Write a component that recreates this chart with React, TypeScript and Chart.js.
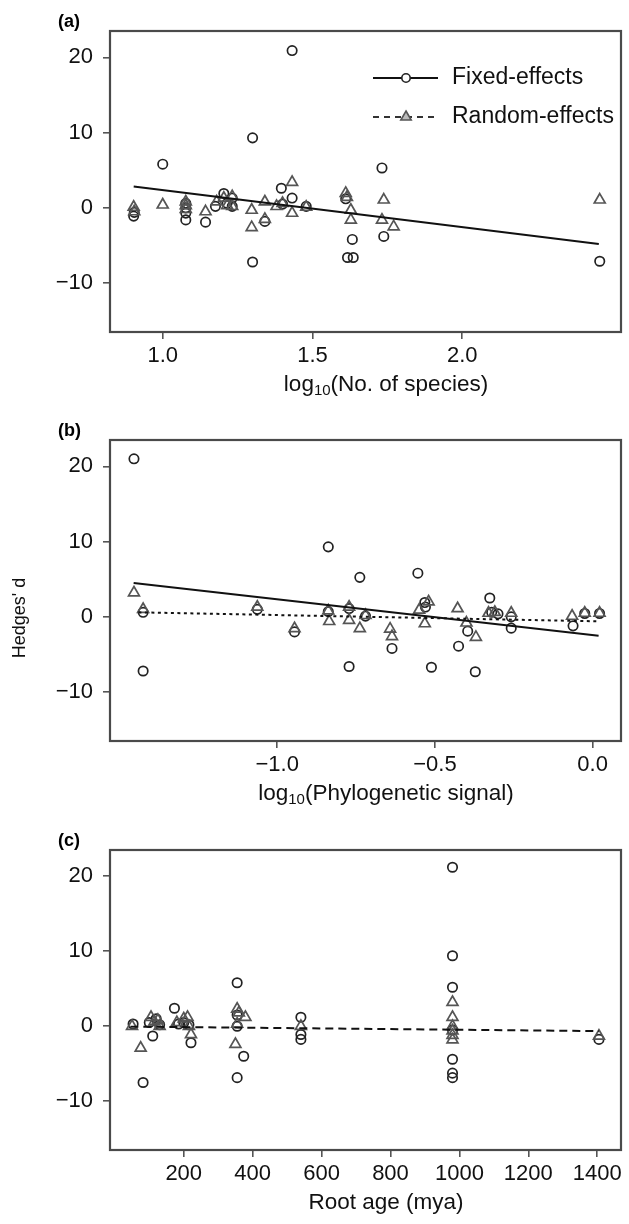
import React, { useEffect, useRef } from 'react';
import { Chart, registerables } from 'chart.js';

Chart.register(...registerables);

const FONT = "'Liberation Sans', Arial, Helvetica, sans-serif";
const PAGE_W = 629;
const PANEL_H = 408;

// Shared y axis
const Y_TICKS = [-10, 0, 10, 20];
const Y_MIN = -16.5;
const Y_MAX = 23.5;

// ---------- Panel (a): log10(No. of species)
const A_X_TICKS = [1.0, 1.5, 2.0];
const A_X_MIN = 0.824;
const A_X_MAX = 2.53;
const A_CIRCLE_X = [0.903, 0.905, 1.0, 1.077, 1.077, 1.077, 1.077, 1.143, 1.176, 1.204, 1.215, 1.232, 1.232, 1.3, 1.3, 1.341, 1.396, 1.4, 1.432, 1.432, 1.479, 1.611, 1.633, 1.617, 1.636, 1.732, 1.738, 2.459];
const A_CIRCLE_Y = [-1.1, -0.6, 5.8, 0.6, 0.0, -0.7, -1.6, -1.9, 0.2, 1.9, 0.6, 1.3, 0.2, 9.3, -7.2, -1.8, 2.6, 0.5, 20.9, 1.3, 0.2, 1.2, -4.2, -6.6, -6.6, 5.3, -3.8, -7.1];
const A_TRI_X = [0.903, 0.905, 1.0, 1.077, 1.077, 1.077, 1.143, 1.18, 1.204, 1.232, 1.232, 1.215, 1.297, 1.297, 1.341, 1.341, 1.38, 1.4, 1.432, 1.432, 1.479, 1.611, 1.628, 1.628, 1.615, 1.738, 1.732, 1.771, 2.459];
const A_TRI_Y = [0.1, -0.5, 0.4, 0.8, 0.3, -0.2, -0.5, 0.8, 1.3, 1.5, 0.2, 0.3, -0.3, -2.6, 0.8, -1.5, 0.2, 0.6, 3.4, -0.7, 0.1, 1.95, -0.3, -1.6, 1.4, 1.06, -1.6, -2.5, 1.06];
const A_FIXED_X = [0.903, 2.456];
const A_FIXED_Y = [2.83, -4.82];

// ---------- Panel (b): log10(Phylogenetic signal)
const B_X_TICKS = [-1.0, -0.5, 0.0];
const B_X_MIN = -1.53;
const B_X_MAX = 0.09;
const B_CIRCLE_X = [-1.454, -1.425, -1.425, -1.063, -0.945, -0.838, -0.838, -0.772, -0.772, -0.738, -0.72, -0.636, -0.554, -0.532, -0.53, -0.511, -0.425, -0.396, -0.372, -0.326, -0.32, -0.3, -0.258, -0.258, -0.062, -0.025, 0.022];
const B_CIRCLE_Y = [21.0, 0.6, -7.2, 1.0, -2.0, 9.3, 0.7, -6.6, 1.1, 5.25, 0.1, -4.2, 5.8, 1.9, 1.3, -6.7, -3.9, -1.9, -7.3, 2.5, 0.6, 0.4, 0.0, -1.5, -1.2, 0.45, 0.45];
const B_TRI_X = [-1.454, -1.425, -1.063, -0.945, -0.838, -0.835, -0.772, -0.772, -0.738, -0.72, -0.642, -0.636, -0.55, -0.532, -0.52, -0.428, -0.4, -0.37, -0.33, -0.31, -0.258, -0.065, -0.025, 0.022];
const B_TRI_Y = [3.2, 1.0, 1.3, -1.55, 0.8, -0.6, 1.3, -0.45, -1.55, 0.2, -1.6, -2.6, 0.9, -0.9, 2.0, 1.1, -0.8, -2.7, 0.5, 0.6, 0.5, 0.1, 0.5, 0.5];
const B_FIXED_X = [-1.455, 0.019];
const B_FIXED_Y = [4.5, -2.5];
const B_RANDOM_X = [-1.44, 0.02];
const B_RANDOM_Y = [0.6, -0.6];

// ---------- Panel (c): Root age (mya)
const C_X_TICKS = [200, 400, 600, 800, 1000, 1200, 1400];
const C_X_MIN = -14;
const C_X_MAX = 1469;
const C_CIRCLE_X = [53, 82, 110, 100, 120, 130, 173, 185, 200, 215, 221, 355, 355, 355, 374, 355, 540, 540, 540, 980, 980, 980, 980, 980, 980, 980, 1405];
const C_CIRCLE_Y = [0.3, -7.5, -1.3, 0.5, 1.0, 0.2, 2.4, 0.3, 0.5, 0.2, -2.2, 5.8, 0.0, 1.5, -4.0, -6.85, 1.2, -1.1, -1.75, 21.2, 9.4, 5.2, -0.5, -4.4, -6.25, -6.85, -1.75];
const C_TRI_X = [50, 75, 105, 115, 125, 130, 180, 200, 211, 215, 221, 355, 355, 379, 350, 360, 540, 980, 980, 980, 980, 980, 980, 1405];
const C_TRI_Y = [0.0, -2.9, 1.2, 0.6, 0.8, 0.0, 0.5, 1.0, 1.2, 0.0, -1.1, 2.3, 0.3, 1.2, -2.4, 1.8, 0.0, 3.2, 1.2, 0.0, -0.6, -1.2, -1.8, -1.3];
const C_RANDOM_X = [45, 1405];
const C_RANDOM_Y = [-0.05, -0.65];

const LEGEND_LABELS = ['Fixed-effects', 'Random-effects'];

const TEXT = '#111';

const pts = (xs: number[], ys: number[]) => xs.map((x, i) => ({ x, y: ys[i] }));
const minus = (s: string) => s.replace('-', '\u2212');

const decorPlugin = {
  id: 'decor',
  afterDraw(chart: any, _args: any, opts: any) {
    const ctx = chart.ctx;
    const a = chart.chartArea;
    ctx.save();
    // frame
    ctx.strokeStyle = '#4a4a4a';
    ctx.lineWidth = 2.2;
    ctx.strokeRect(a.left, a.top, a.right - a.left, a.bottom - a.top);
    // panel label
    ctx.fillStyle = '#000';
    ctx.font = `bold 18px ${FONT}`;
    ctx.textAlign = 'left';
    ctx.textBaseline = 'middle';
    ctx.fillText(opts.panel, 58, a.top - 9);
    // x title (with optional subscript)
    const t = opts.xTitle;
    const main = `22.5px ${FONT}`;
    const small = `15px ${FONT}`;
    ctx.font = main;
    const w1 = ctx.measureText(t.base).width;
    const w3 = ctx.measureText(t.rest).width;
    ctx.font = small;
    const w2 = t.sub ? ctx.measureText(t.sub).width : 0;
    const total = w1 + w2 + w3;
    let x = opts.xTitleCenter - total / 2;
    const y = a.bottom + 53;
    ctx.fillStyle = TEXT;
    ctx.textAlign = 'left';
    ctx.textBaseline = 'middle';
    ctx.font = main;
    ctx.fillText(t.base, x, y);
    x += w1;
    if (t.sub) {
      ctx.font = small;
      ctx.fillText(t.sub, x, y + 6);
      x += w2;
    }
    ctx.font = main;
    ctx.fillText(t.rest, x, y);
    // y title
    if (opts.yTitle) {
      ctx.save();
      ctx.translate(20, opts.yTitleY);
      ctx.rotate(-Math.PI / 2);
      ctx.font = `18px ${FONT}`;
      ctx.textAlign = 'center';
      ctx.textBaseline = 'middle';
      ctx.fillText(opts.yTitle, 0, 0);
      ctx.restore();
    }
    // legend
    if (opts.legend) {
      const lx0 = 373, lx1 = 438, mx = 406, tx = 452;
      const rows = [78, 117];
      ctx.strokeStyle = '#111';
      ctx.lineWidth = 1.8;
      // fixed
      ctx.setLineDash([]);
      ctx.beginPath();
      ctx.moveTo(lx0, rows[0]);
      ctx.lineTo(lx1, rows[0]);
      ctx.stroke();
      ctx.beginPath();
      ctx.fillStyle = '#fff';
      ctx.arc(mx, rows[0], 4.2, 0, Math.PI * 2);
      ctx.fill();
      ctx.strokeStyle = '#222';
      ctx.lineWidth = 1.6;
      ctx.stroke();
      // random
      ctx.strokeStyle = '#333';
      ctx.lineWidth = 1.8;
      ctx.setLineDash([6, 5]);
      ctx.beginPath();
      ctx.moveTo(lx0, rows[1]);
      ctx.lineTo(lx1, rows[1]);
      ctx.stroke();
      ctx.setLineDash([]);
      const r = 6;
      ctx.beginPath();
      ctx.moveTo(mx, rows[1] - r);
      ctx.lineTo(mx + r * 0.866, rows[1] + r / 2);
      ctx.lineTo(mx - r * 0.866, rows[1] + r / 2);
      ctx.closePath();
      ctx.fillStyle = '#bbb';
      ctx.fill();
      ctx.strokeStyle = '#555';
      ctx.lineWidth = 1.6;
      ctx.stroke();
      ctx.fillStyle = TEXT;
      ctx.font = `23px ${FONT}`;
      ctx.textAlign = 'left';
      ctx.textBaseline = 'middle';
      ctx.fillText(LEGEND_LABELS[0], tx, rows[0]);
      ctx.fillText(LEGEND_LABELS[1], tx, rows[1]);
    }
    ctx.restore();
  },
};

type Panel = {
  panel: string;
  xMin: number;
  xMax: number;
  xTicks: number[];
  xFmt: (v: number) => string;
  xTitle: { base: string; sub: string; rest: string };
  circles: { x: number; y: number }[];
  tris: { x: number; y: number }[];
  lines: { data: { x: number; y: number }[]; dash: number[] }[];
  top: number;
  bottom: number;
  legend?: boolean;
  yTitle?: string;
};

const PANELS: Panel[] = [
  {
    panel: '(a)',
    xMin: A_X_MIN,
    xMax: A_X_MAX,
    xTicks: A_X_TICKS,
    xFmt: (v) => v.toFixed(1),
    xTitle: { base: 'log', sub: '10', rest: '(No. of species)' },
    circles: pts(A_CIRCLE_X, A_CIRCLE_Y),
    tris: pts(A_TRI_X, A_TRI_Y),
    lines: [{ data: pts(A_FIXED_X, A_FIXED_Y), dash: [] }],
    top: 31,
    bottom: 332,
    legend: true,
  },
  {
    panel: '(b)',
    xMin: B_X_MIN,
    xMax: B_X_MAX,
    xTicks: B_X_TICKS,
    xFmt: (v) => minus(v.toFixed(1)),
    xTitle: { base: 'log', sub: '10', rest: '(Phylogenetic signal)' },
    circles: pts(B_CIRCLE_X, B_CIRCLE_Y),
    tris: pts(B_TRI_X, B_TRI_Y),
    lines: [
      { data: pts(B_FIXED_X, B_FIXED_Y), dash: [] },
      { data: pts(B_RANDOM_X, B_RANDOM_Y), dash: [3, 3.5] },
    ],
    top: 32,
    bottom: 333,
    yTitle: "Hedges' d",
  },
  {
    panel: '(c)',
    xMin: C_X_MIN,
    xMax: C_X_MAX,
    xTicks: C_X_TICKS,
    xFmt: (v) => String(v),
    xTitle: { base: 'Root age (mya)', sub: '', rest: '' },
    circles: pts(C_CIRCLE_X, C_CIRCLE_Y),
    tris: pts(C_TRI_X, C_TRI_Y),
    lines: [{ data: pts(C_RANDOM_X, C_RANDOM_Y), dash: [8, 5] }],
    top: 34,
    bottom: 334,
  },
];

function PanelChart({ p }: { p: Panel }) {
  const ref = useRef<HTMLCanvasElement | null>(null);
  useEffect(() => {
    if (!ref.current) return;
    const datasets: any[] = [];
    p.lines.forEach((l) => {
      datasets.push({
        data: l.data,
        showLine: true,
        borderColor: '#111',
        borderWidth: 2,
        borderDash: l.dash,
        pointRadius: 0,
        fill: false,
        order: 0,
      });
    });
    datasets.push({
      data: p.tris,
      showLine: false,
      pointStyle: 'triangle',
      pointRadius: 6.3,
      pointBorderWidth: 1.7,
      pointBorderColor: '#555',
      pointBackgroundColor: 'rgba(0,0,0,0)',
      order: 1,
    });
    datasets.push({
      data: p.circles,
      showLine: false,
      pointStyle: 'circle',
      pointRadius: 4.7,
      pointBorderWidth: 1.7,
      pointBorderColor: '#222',
      pointBackgroundColor: 'rgba(0,0,0,0)',
      order: 2,
    });
    const chart = new Chart(ref.current, {
      type: 'scatter',
      data: { datasets },
      plugins: [decorPlugin as any],
      options: {
        responsive: false,
        animation: false,
        events: [],
        layout: { padding: { top: p.top, right: 3, left: 0, bottom: 0 } },
        plugins: {
          legend: { display: false },
          tooltip: { enabled: false },
          title: { display: false },
          decor: {
            panel: p.panel,
            xTitle: p.xTitle,
            xTitleCenter: 386,
            legend: !!p.legend,
            yTitle: p.yTitle,
            yTitleY: 210,
          },
        } as any,
        scales: {
          x: {
            type: 'linear',
            min: p.xMin,
            max: p.xMax,
            afterBuildTicks: (s: any) => {
              s.ticks = p.xTicks.map((v) => ({ value: v }));
            },
            afterFit: (s: any) => {
              s.height = PANEL_H - p.bottom;
            },
            ticks: {
              autoSkip: false,
              maxRotation: 0,
              padding: 4,
              color: TEXT,
              font: { family: FONT, size: 22 },
              callback: (v: any) => p.xFmt(Number(v)),
            },
            grid: { drawOnChartArea: false, drawTicks: true, tickLength: 7, color: '#555', lineWidth: 1.6 },
            border: { display: false },
          },
          y: {
            type: 'linear',
            min: Y_MIN,
            max: Y_MAX,
            afterBuildTicks: (s: any) => {
              s.ticks = Y_TICKS.map((v) => ({ value: v }));
            },
            afterFit: (s: any) => {
              s.width = 110;
            },
            ticks: {
              autoSkip: false,
              padding: 10,
              color: TEXT,
              font: { family: FONT, size: 22 },
              callback: (v: any) => minus(String(v)),
            },
            grid: { drawOnChartArea: false, drawTicks: true, tickLength: 7, color: '#555', lineWidth: 1.6 },
            border: { display: false },
          },
        },
      } as any,
    });
    return () => chart.destroy();
  }, [p]);
  return (
    <canvas
      ref={ref}
      width={PAGE_W}
      height={PANEL_H}
      style={{ display: 'block', width: PAGE_W, height: PANEL_H }}
    />
  );
}

export default function App() {
  return (
    <div style={{ position: 'absolute', left: 0, top: 0, width: PAGE_W, height: PANEL_H * 3, background: '#fff' }}>
      {PANELS.map((p) => (
        <PanelChart key={p.panel} p={p} />
      ))}
    </div>
  );
}
